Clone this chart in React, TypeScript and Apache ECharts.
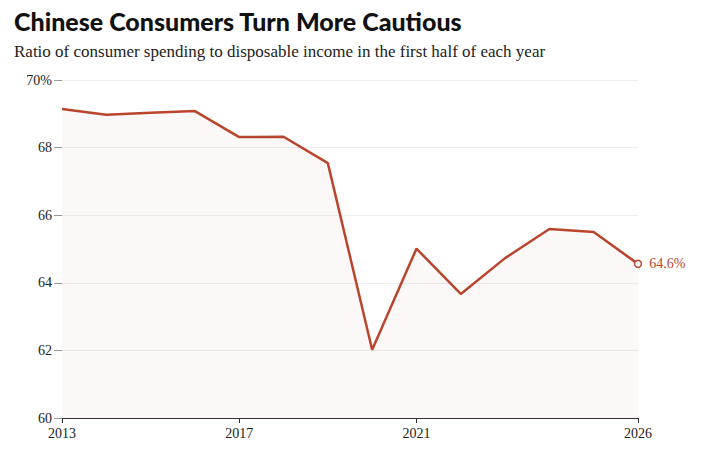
import { useEffect, useRef } from 'react';
import * as echarts from 'echarts';

const years = [2013, 2014, 2015, 2016, 2017, 2018, 2019, 2020, 2021, 2022, 2023, 2024, 2025, 2026];
const ratio = [69.14, 68.97, 69.03, 69.08, 68.31, 68.32, 67.54, 62.02, 65.01, 63.67, 64.73, 65.59, 65.5, 64.56];
const xLabels = [2013, 2017, 2021, 2026];

const RED = '#b9452d';

export default function App() {
  const ref = useRef<HTMLDivElement>(null);

  useEffect(() => {
    if (!ref.current) return;
    const chart = echarts.init(ref.current, null, { renderer: 'svg' });
    const last = ratio.length - 1;

    chart.setOption({
      animation: false,
      backgroundColor: '#fff',
      title: [
        {
          text: 'Chinese Consumers Turn More Cautious',
          left: 6,
          top: 0,
          padding: 0,
          textStyle: { fontFamily: 'Lato', fontWeight: 900, fontSize: 25, color: '#111' },
        },
        {
          text: 'Ratio of consumer spending to disposable income in the first half of each year',
          left: 6,
          top: 35,
          padding: 0,
          textStyle: { fontFamily: 'Liberation Serif', fontWeight: 'normal', fontSize: 17, color: '#222' },
        },
      ],
      grid: { left: 54, right: 63, top: 72, bottom: 37 },
      xAxis: {
        type: 'value',
        min: 2013,
        max: 2026,
        axisLine: { show: true, lineStyle: { color: '#333' } },
        axisTick: { show: true, customValues: xLabels, length: 5, lineStyle: { color: '#333' } },
        axisLabel: {
          customValues: xLabels,
          formatter: (v: number) => String(v),
          fontFamily: 'Liberation Serif',
          fontSize: 14,
          color: '#222',
        },
        splitLine: { show: false },
      },
      yAxis: {
        type: 'value',
        min: 60,
        max: 70,
        interval: 2,
        axisLine: { show: false },
        axisTick: { show: true, length: 8, lineStyle: { color: '#999' } },
        axisLabel: {
          formatter: (v: number) => (v === 70 ? '70%' : String(v)),
          fontFamily: 'Liberation Serif',
          fontSize: 14,
          color: '#222',
          margin: 10,
        },
        splitLine: { show: true, lineStyle: { color: '#eee' } },
      },
      series: [
        {
          type: 'line',
          data: years.map((y, i) => [y, ratio[i]]),
          lineStyle: { color: RED, width: 2.5 },
          areaStyle: { color: 'rgba(185,69,45,0.05)' },
          showSymbol: false,
          symbol: 'none',
          markPoint: {
            symbol: 'circle',
            symbolSize: 7,
            itemStyle: { color: '#fff', borderColor: RED, borderWidth: 1.5 },
            label: {
              show: true,
              position: 'right',
              formatter: '64.6%',
              color: RED,
              fontFamily: 'Liberation Serif',
              fontSize: 14,
              offset: [2, 0],
            },
            data: [{ coord: [years[last], ratio[last]] }],
          },
        },
      ],
    });
    return () => chart.dispose();
  }, []);

  return <div ref={ref} style={{ width: 693, height: 447 }} />;
}
